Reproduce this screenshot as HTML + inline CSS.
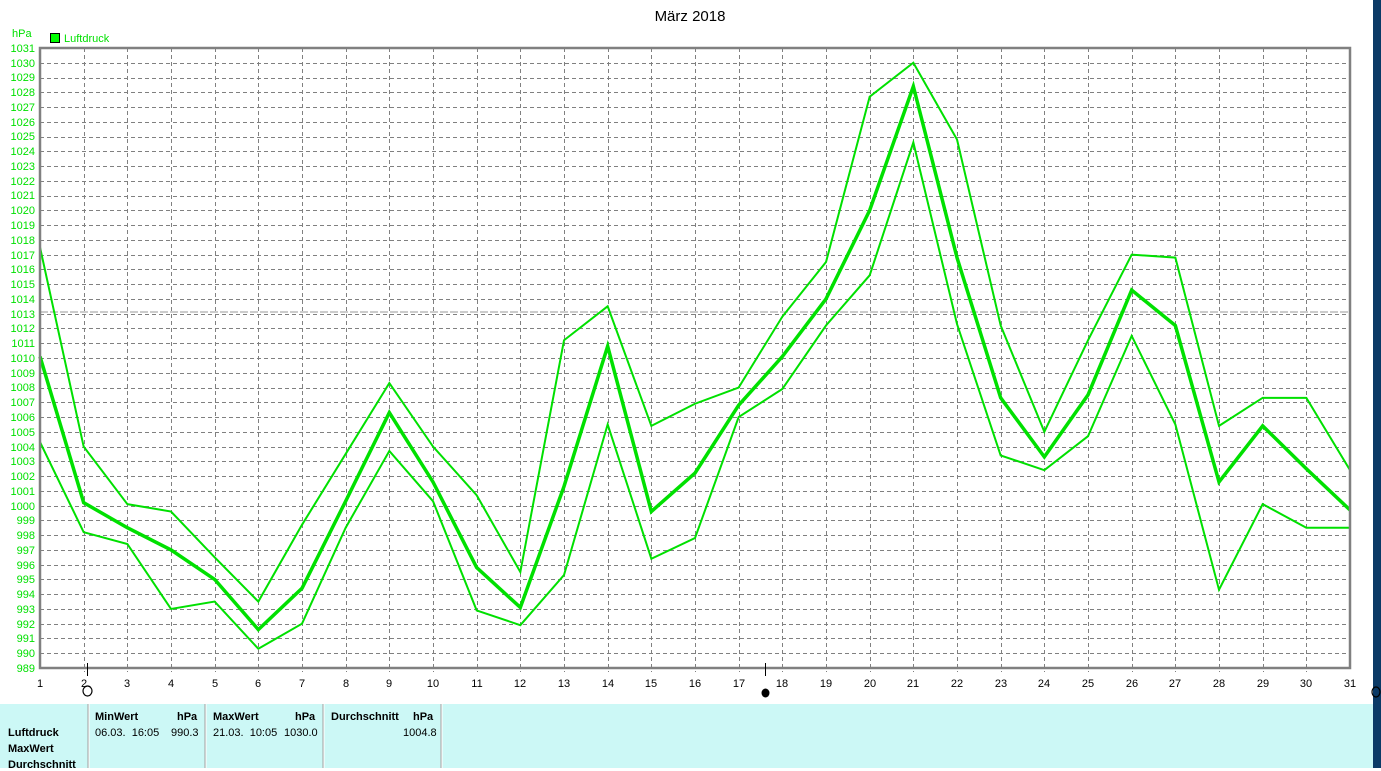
<!DOCTYPE html>
<html><head><meta charset="utf-8"><style>
body{margin:0;width:1381px;height:768px;overflow:hidden;background:#fff;font-family:"Liberation Sans",sans-serif;position:relative}
svg{position:absolute;left:0;top:0}
.t{position:absolute;font-size:11px;font-weight:bold;color:#000;white-space:nowrap}
.n{position:absolute;font-size:11px;color:#000;white-space:nowrap}
</style></head><body>
<svg width="1381" height="768" id="s">
<rect x="0" y="704" width="1373" height="64" fill="#ccf8f6"/>
<rect x="1373" y="0" width="8" height="768" fill="#0b3a66"/>
<g id="grid" stroke="#808080" stroke-width="1" stroke-dasharray="4,3"></g>
<line x1="40" y1="312" x2="1350" y2="312" stroke="#999" stroke-dasharray="8,2"/>
<g transform="matrix(43.667 0 0 -14.762 -3.667 15267.6)" fill="none" stroke="#00e000" stroke-linejoin="miter">
<polyline vector-effect="non-scaling-stroke" stroke-width="2" points="1,1017.5 2,1004 3,1000.1 4,999.6 5,996.5 6,993.5 7,998.7 8,1003.5 9,1008.3 10,1004 11,1000.7 12,995.5 13,1011.2 14,1013.5 15,1005.4 16,1006.9 17,1008 18,1012.8 19,1016.5 20,1027.7 21,1030 22,1024.8 23,1012.2 24,1005 25,1011.2 26,1017 27,1016.8 28,1005.4 29,1007.3 30,1007.3 31,1002.4"/>
<polyline vector-effect="non-scaling-stroke" stroke-width="2" points="1,1004.3 2,998.2 3,997.4 4,993 5,993.5 6,990.3 7,992 8,998.5 9,1003.7 10,1000.3 11,992.9 12,991.9 13,995.3 14,1005.5 15,996.4 16,997.8 17,1006 18,1007.9 19,1012.2 20,1015.6 21,1024.6 22,1012.3 23,1003.4 24,1002.4 25,1004.7 26,1011.5 27,1005.5 28,994.3 29,1000.1 30,998.5 31,998.5"/>
<polyline vector-effect="non-scaling-stroke" stroke-width="3.5" points="1,1010.1 2,1000.2 3,998.5 4,997 5,995 6,991.6 7,994.4 8,1000.3 9,1006.3 10,1001.6 11,995.8 12,993.1 13,1001.3 14,1010.8 15,999.6 16,1002.2 17,1006.8 18,1010.1 19,1014 20,1020 21,1028.4 22,1016.8 23,1007.3 24,1003.3 25,1007.5 26,1014.6 27,1012.2 28,1001.6 29,1005.4 30,1002.5 31,999.7"/>
</g>
<rect x="40" y="48" width="1310" height="620" fill="none" stroke="#808080" stroke-width="2.5"/>
<text x="690" y="21" font-size="15" text-anchor="middle" font-family="Liberation Sans">März 2018</text>
<rect x="50.5" y="33.5" width="9" height="9" fill="#00ff00" stroke="#000"/>
<text x="64" y="42" font-size="11" fill="#00e000" font-family="Liberation Sans">Luftdruck</text>
<text x="12" y="37" font-size="11" fill="#00e000" font-family="Liberation Sans">hPa</text>
<g font-size="11" fill="#00e000" text-anchor="end" font-family="Liberation Sans">
<text x="35" y="52">1031</text><text x="35" y="67">1030</text><text x="35" y="81">1029</text><text x="35" y="96">1028</text><text x="35" y="111">1027</text><text x="35" y="126">1026</text><text x="35" y="140">1025</text><text x="35" y="155">1024</text><text x="35" y="170">1023</text><text x="35" y="185">1022</text><text x="35" y="199">1021</text><text x="35" y="214">1020</text><text x="35" y="229">1019</text><text x="35" y="244">1018</text><text x="35" y="259">1017</text><text x="35" y="273">1016</text><text x="35" y="288">1015</text><text x="35" y="303">1014</text><text x="35" y="318">1013</text><text x="35" y="332">1012</text><text x="35" y="347">1011</text><text x="35" y="362">1010</text><text x="35" y="377">1009</text><text x="35" y="391">1008</text><text x="35" y="406">1007</text><text x="35" y="421">1006</text><text x="35" y="436">1005</text><text x="35" y="451">1004</text><text x="35" y="465">1003</text><text x="35" y="480">1002</text><text x="35" y="495">1001</text><text x="35" y="510">1000</text><text x="35" y="524">999</text><text x="35" y="539">998</text><text x="35" y="554">997</text><text x="35" y="569">996</text><text x="35" y="583">995</text><text x="35" y="598">994</text><text x="35" y="613">993</text><text x="35" y="628">992</text><text x="35" y="642">991</text><text x="35" y="657">990</text><text x="35" y="672">989</text>
</g>
<g font-size="11" fill="#000" text-anchor="middle" font-family="Liberation Sans">
<text x="40" y="687">1</text><text x="84" y="687">2</text><text x="127" y="687">3</text><text x="171" y="687">4</text><text x="215" y="687">5</text><text x="258" y="687">6</text><text x="302" y="687">7</text><text x="346" y="687">8</text><text x="389" y="687">9</text><text x="433" y="687">10</text><text x="477" y="687">11</text><text x="520" y="687">12</text><text x="564" y="687">13</text><text x="608" y="687">14</text><text x="651" y="687">15</text><text x="695" y="687">16</text><text x="739" y="687">17</text><text x="782" y="687">18</text><text x="826" y="687">19</text><text x="870" y="687">20</text><text x="913" y="687">21</text><text x="957" y="687">22</text><text x="1001" y="687">23</text><text x="1044" y="687">24</text><text x="1088" y="687">25</text><text x="1132" y="687">26</text><text x="1175" y="687">27</text><text x="1219" y="687">28</text><text x="1263" y="687">29</text><text x="1306" y="687">30</text><text x="1350" y="687">31</text>
</g>
<line x1="87.5" y1="663" x2="87.5" y2="676" stroke="#000"/>
<ellipse cx="87.5" cy="691" rx="4.5" ry="5" fill="none" stroke="#000" stroke-width="1.2"/>
<line x1="765.5" y1="663" x2="765.5" y2="676" stroke="#000"/>
<ellipse cx="765.5" cy="693" rx="4" ry="4.5" fill="#000"/>
<ellipse cx="1376" cy="692" rx="4" ry="5" fill="none" stroke="#000" stroke-width="1.2"/>
<g stroke-width="1">
<line x1="88" y1="704" x2="88" y2="768" stroke="#a0a0a0"/><line x1="89" y1="704" x2="89" y2="768" stroke="#fff"/>
<line x1="205" y1="704" x2="205" y2="768" stroke="#a0a0a0"/><line x1="206" y1="704" x2="206" y2="768" stroke="#fff"/>
<line x1="323" y1="704" x2="323" y2="768" stroke="#a0a0a0"/><line x1="324" y1="704" x2="324" y2="768" stroke="#fff"/>
<line x1="441" y1="704" x2="441" y2="768" stroke="#a0a0a0"/><line x1="442" y1="704" x2="442" y2="768" stroke="#fff"/>
</g>
</svg>
<div class="t" style="left:8px;top:727px">Luftdruck</div>
<div class="t" style="left:8px;top:743px">MaxWert</div>
<div class="t" style="left:8px;top:759px">Durchschnitt</div>
<div class="t" style="left:95px;top:711px">MinWert</div>
<div class="t" style="left:177px;top:711px">hPa</div>
<div class="n" style="left:95px;top:727px">06.03.&nbsp; 16:05</div>
<div class="n" style="left:171px;top:727px">990.3</div>
<div class="t" style="left:213px;top:711px">MaxWert</div>
<div class="t" style="left:295px;top:711px">hPa</div>
<div class="n" style="left:213px;top:727px">21.03.&nbsp; 10:05</div>
<div class="n" style="left:284px;top:727px">1030.0</div>
<div class="t" style="left:331px;top:711px">Durchschnitt</div>
<div class="t" style="left:413px;top:711px">hPa</div>
<div class="n" style="left:403px;top:727px">1004.8</div>
<script>
var g=document.getElementById('grid'),ns='http://www.w3.org/2000/svg';
function L(a,b,c,d){var l=document.createElementNS(ns,'line');l.setAttribute('x1',a);l.setAttribute('y1',b);l.setAttribute('x2',c);l.setAttribute('y2',d);g.appendChild(l);}
for(var i=1;i<42;i++){var y=Math.round(48+i*14.762)+0.5;L(40,y,1350,y);}
for(var d=2;d<=30;d++){var x=Math.round(40+(d-1)*43.667)+0.5;L(x,48,x,672);}
</script>
</body></html>
